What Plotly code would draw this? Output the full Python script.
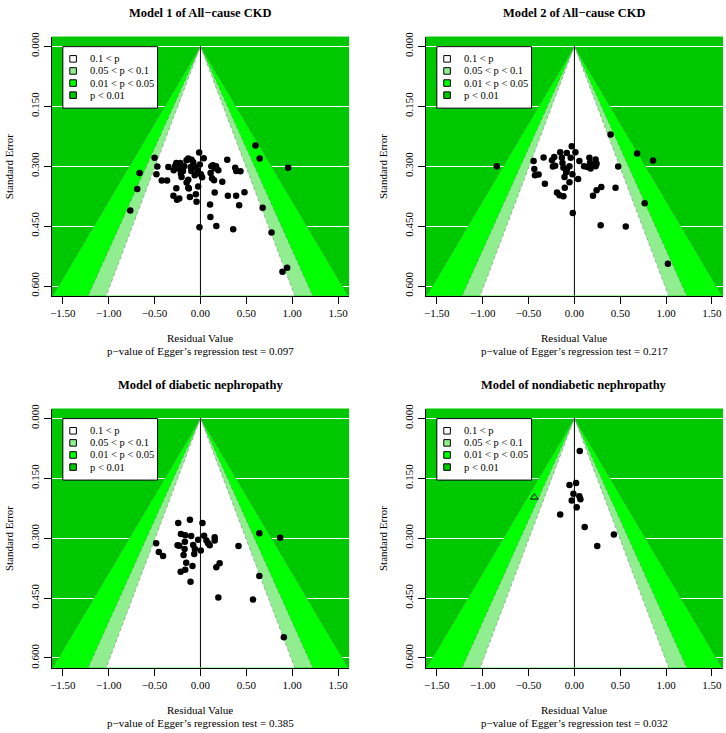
import plotly.graph_objects as go

# ---------------- data ----------------
titles = ["Model 1 of All\u2212cause CKD", "Model 2 of All\u2212cause CKD",
          "Model of diabetic nephropathy", "Model of nondiabetic nephropathy"]
egger_p = ["0.097", "0.217", "0.385", "0.032"]

m1_x = [0.60, 0.646, 0.956, -0.50, -0.47, -0.48, -0.664, -0.689, -0.765, 0.678, 0.775, 0.945, 0.894,
        -0.011, 0.173, 0.357, 0.108, 0.105, 0.422, 0.389, 0.299, 0.480, 0.155, -0.043, -0.050, -0.115,
        -0.231, -0.256, -0.295, -0.263, -0.422, -0.364, -0.35, -0.025, -0.133, -0.151, 0.238, 0.292,
        0.436, 0.379, 0.390, -0.014, 0.036, -0.263, -0.278, -0.241, -0.292, -0.213, -0.206, -0.177,
        -0.152, -0.133, -0.097, -0.079, -0.105, -0.062, -0.007, -0.032, 0.004, 0.018, -0.062, -0.133,
        -0.126, 0.119, 0.135, 0.155, 0.170, 0.126, 0.148, 0.111, 0.195, -0.22, -0.19, -0.10]
m1_se = [0.248, 0.281, 0.304, 0.279, 0.301, 0.320, 0.317, 0.357, 0.411, 0.404, 0.466, 0.554, 0.564,
         0.453, 0.450, 0.458, 0.427, 0.396, 0.398, 0.374, 0.374, 0.365, 0.366, 0.389, 0.370, 0.377,
         0.381, 0.384, 0.374, 0.355, 0.336, 0.336, 0.302, 0.351, 0.354, 0.341, 0.339, 0.284,
         0.313, 0.304, 0.312, 0.266, 0.280, 0.292, 0.300, 0.306, 0.310, 0.319, 0.327, 0.300,
         0.285, 0.281, 0.284, 0.290, 0.302, 0.302, 0.296, 0.310, 0.320, 0.328, 0.323, 0.334,
         0.356, 0.300, 0.298, 0.305, 0.300, 0.330, 0.335, 0.317, 0.310, 0.292, 0.312, 0.312]

m2_x = [-0.846, 0.394, 0.683, 0.857, 0.477, 0.448, 0.766, 0.286, 0.560, 1.019, -0.018, 0.202, 0.242,
        0.293, -0.322, -0.445, -0.437, -0.43, -0.39, -0.336, -0.19, -0.163, -0.12, -0.105, -0.054,
        -0.022, 0.040, -0.029, 0.011, -0.04, -0.083, -0.155, -0.137, -0.22, -0.245, -0.235, -0.21,
        -0.13, -0.12, -0.083, -0.054, -0.108, -0.09, 0.054, 0.105, 0.141, 0.163, 0.17, 0.192, 0.231,
        0.242, 0.231, 0.177]
m2_se = [0.300, 0.221, 0.268, 0.286, 0.301, 0.354, 0.393, 0.448, 0.451, 0.544, 0.417, 0.374, 0.360,
         0.352, 0.344, 0.287, 0.307, 0.323, 0.321, 0.278, 0.366, 0.373, 0.375, 0.354, 0.340,
         0.320, 0.332, 0.250, 0.265, 0.279, 0.267, 0.265, 0.279, 0.277, 0.285, 0.301, 0.299,
         0.292, 0.304, 0.309, 0.300, 0.327, 0.315, 0.287, 0.300, 0.302, 0.279, 0.292, 0.298, 0.283,
         0.294, 0.300, 0.306]

m3_x = [-0.242, -0.115, 0.022, 0.642, 0.869, -0.483, -0.454, -0.408, -0.213, -0.166, -0.101, -0.17,
        -0.249, -0.231, -0.173, -0.184, -0.079, -0.061, -0.068, -0.025, 0.004, 0.040, 0.065, 0.083,
        0.101, 0.155, 0.155, -0.155, -0.087, -0.166, -0.216, -0.108, 0.173, 0.209, 0.415, 0.642,
        0.195, 0.573, 0.909]
m3_se = [0.262, 0.254, 0.262, 0.288, 0.299, 0.313, 0.335, 0.345, 0.290, 0.293, 0.295, 0.309,
         0.318, 0.319, 0.327, 0.342, 0.317, 0.327, 0.340, 0.304, 0.331, 0.294, 0.306, 0.313,
         0.318, 0.298, 0.306, 0.362, 0.370, 0.379, 0.384, 0.409, 0.373, 0.363, 0.320, 0.395,
         0.449, 0.454, 0.548]

m4_x = [0.058, -0.054, 0.018, -0.011, 0.054, 0.065, -0.029, 0.025, -0.155, 0.112, 0.430, 0.249]
m4_se = [0.082, 0.167, 0.162, 0.189, 0.195, 0.203, 0.206, 0.223, 0.241, 0.272, 0.291, 0.320]
m4_fill_x = [-0.437]      # imputed (open triangle)
m4_fill_se = [0.198]

series_x = [m1_x, m2_x, m3_x, m4_x]
series_se = [m1_se, m2_se, m3_se, m4_se]

# contour levels (two-sided p) and their z-values
z_levels = [2.576, 1.960, 1.645]          # p = 0.01, 0.05, 0.10
z_colors = ["#00FF00", "#90EE90", "#FFFFFF"]
legend_labels = ["0.1 &lt; p", "0.05 &lt; p &lt; 0.1", "0.01 &lt; p &lt; 0.05", "p &lt; 0.01"]
legend_colors = ["#FFFFFF", "#90EE90", "#00FF00", "#00C800"]
dark_green = "#00C800"

x_ticks = [-1.5, -1.0, -0.5, 0.0, 0.5, 1.0, 1.5]
x_ticktext = ["\u22121.50", "\u22121.00", "\u22120.50", "0.00", "0.50", "1.00", "1.50"]
y_ticks = [0.0, 0.15, 0.30, 0.45, 0.60]
y_ticktext = ["0.000", "0.150", "0.300", "0.450", "0.600"]
x_range = [-1.62, 1.62]
y_range = [0.624, -0.024]

# ---------------- layout geometry (pixels) ----------------
W, H = 726, 733
panels = [(50, 32), (425, 32), (50, 407), (425, 407)]
PW, PH = 298, 261
serif = "Liberation Serif, Times New Roman, serif"

def px(x):
    return x / W

def py(y):
    return 1 - y / H

fig = go.Figure()
layout = dict(width=W, height=H, margin=dict(l=0, r=0, t=0, b=0),
              paper_bgcolor="white", showlegend=False,
              font=dict(family=serif, color="black", size=11))
shapes = []
annotations = []

ybot = 0.8
for i, (left, top) in enumerate(panels):
    k = "" if i == 0 else str(i + 1)
    xa, ya = "x" + k, "y" + k
    layout["xaxis" + k] = dict(domain=[px(left), px(left + PW)], range=x_range, anchor=ya,
                               tickvals=x_ticks, ticktext=x_ticktext, ticks="outside", ticklen=7,
                               tickcolor="black", showline=True, linecolor="black", linewidth=1,
                               showgrid=False, zeroline=False, tickfont=dict(size=11, family=serif),
                               fixedrange=True)
    layout["yaxis" + k] = dict(domain=[py(top + PH), py(top)], range=y_range, anchor=xa,
                               tickvals=y_ticks, ticktext=y_ticktext, ticks="outside", ticklen=7,
                               tickcolor="black", showline=True, linecolor="black", linewidth=1,
                               showgrid=True, gridcolor="white", gridwidth=1.2, zeroline=False,
                               tickangle=-90, tickfont=dict(size=11, family=serif), fixedrange=True)
    shapes.append(dict(type="rect", xref=xa + " domain", yref=ya + " domain", x0=0, x1=1, y0=0, y1=1,
                       fillcolor=dark_green, line=dict(width=0), layer="below"))
    # contour regions
    for z, c in zip(z_levels, z_colors):
        fig.add_trace(go.Scatter(x=[-z * ybot, 0, z * ybot, -z * ybot], y=[ybot, 0, ybot, ybot],
                                 fill="toself", fillcolor=c, mode="lines", line=dict(width=0),
                                 xaxis=xa, yaxis=ya, hoverinfo="skip"))
    for z in z_levels:
        fig.add_trace(go.Scatter(x=[-z * ybot, 0, z * ybot], y=[ybot, 0, ybot], mode="lines",
                                 line=dict(color="#7a7a7a", width=0.6, dash="dot"),
                                 xaxis=xa, yaxis=ya, hoverinfo="skip"))
    fig.add_trace(go.Scatter(x=[0, 0], y=[0, ybot], mode="lines", line=dict(color="black", width=1),
                             xaxis=xa, yaxis=ya, hoverinfo="skip"))
    fig.add_trace(go.Scatter(x=series_x[i], y=series_se[i], mode="markers",
                             marker=dict(color="black", size=6.5, symbol="circle", line=dict(width=0)),
                             xaxis=xa, yaxis=ya))
    if i == 3:
        fig.add_trace(go.Scatter(x=m4_fill_x, y=m4_fill_se, mode="markers",
                                 marker=dict(color="black", size=7, symbol="triangle-up-open",
                                             line=dict(width=1)),
                                 xaxis=xa, yaxis=ya))
    # texts
    annotations.append(dict(text="<b>" + titles[i] + "</b>", x=px(left + PW / 2), y=py(top - 24),
                            xref="paper", yref="paper", showarrow=False, xanchor="center", yanchor="middle",
                            font=dict(size=12.5, family=serif)))
    annotations.append(dict(text="Residual Value", x=px(left + PW / 2), y=py(top + PH + 43),
                            xref="paper", yref="paper", showarrow=False, xanchor="center", yanchor="middle",
                            font=dict(size=11, family=serif)))
    annotations.append(dict(text="p\u2212value of Egger\u2019s regression test = " + egger_p[i],
                            x=px(left + PW / 2), y=py(top + PH + 56),
                            xref="paper", yref="paper", showarrow=False, xanchor="center", yanchor="middle",
                            font=dict(size=11, family=serif)))
    annotations.append(dict(text="Standard Error", x=px(left - 43), y=py(top + PH / 2), textangle=-90,
                            xref="paper", yref="paper", showarrow=False, xanchor="center", yanchor="middle",
                            font=dict(size=11, family=serif)))
    # legend box
    bl, bt = left + 11, top + 10
    shapes.append(dict(type="rect", xref="paper", yref="paper", x0=px(bl), x1=px(bl + 95),
                       y0=py(bt + 62), y1=py(bt), fillcolor="white", line=dict(color="black", width=1)))
    for j, (lab, col) in enumerate(zip(legend_labels, legend_colors)):
        cy = bt + 12.3 + 12.2 * j
        cx = bl + 10.3
        shapes.append(dict(type="rect", xref="paper", yref="paper", x0=px(cx - 3.3), x1=px(cx + 3.3),
                           y0=py(cy + 3.3), y1=py(cy - 3.3), fillcolor=col,
                           line=dict(color="black", width=1)))
        annotations.append(dict(text=lab, x=px(bl + 25), y=py(cy), xref="paper", yref="paper",
                                showarrow=False, xanchor="left", yanchor="middle",
                                font=dict(size=10.5, family=serif)))

layout["shapes"] = shapes
layout["annotations"] = annotations
layout["plot_bgcolor"] = dark_green
fig.update_layout(**layout)
fig.write_html("out.html", config={"displayModeBar": False},
               post_script="document.body.style.margin='0px';")
